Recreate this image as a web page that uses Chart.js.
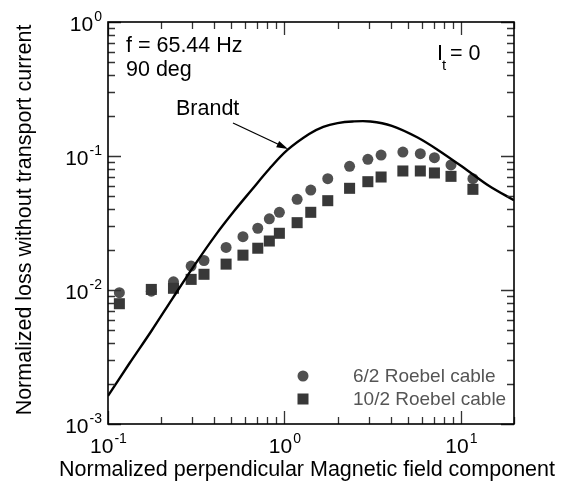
<!DOCTYPE html>
<html lang="en">

<head>
  <meta charset="UTF-8">
  <title>Normalized loss vs field</title>
  <style>
    html, body {
      margin: 0;
      padding: 0;
      background: #fff;
    }

    .chart-container {
      position: relative;
      width: 563px;
      height: 481px;
    }
  </style>
</head>

<body>
  <div class="chart-container">
    <canvas id="lossChart"></canvas>
  </div>

  <script src="https://cdn.jsdelivr.net/npm/chart.js"></script>
  <script>
    // Measured points (same field values for both cables)
    const fieldX = [0.116, 0.176, 0.235, 0.296, 0.350, 0.467, 0.582, 0.706, 0.821, 0.936, 1.18, 1.41, 1.76, 2.34, 2.97, 3.53, 4.69, 5.89, 7.08, 8.79, 11.7];
    const cable62 = [0.00955, 0.0098, 0.0115, 0.0151, 0.0166, 0.0208, 0.025, 0.0289, 0.034, 0.038, 0.0475, 0.0557, 0.0677, 0.0838, 0.0945, 0.1017, 0.107, 0.104, 0.0971, 0.0857, 0.0677];
    const cable102 = [0.0079, 0.0101, 0.0103, 0.0120, 0.0131, 0.0156, 0.0182, 0.0205, 0.0232, 0.0265, 0.0318, 0.038, 0.0464, 0.0574, 0.0643, 0.0697, 0.0773, 0.0773, 0.0747, 0.0705, 0.0564];

    // Brandt theoretical curve
    const brandtX = [0.1, 0.1324, 0.1754, 0.2328, 0.308, 0.408, 0.52, 0.653, 0.82, 1.04, 1.38, 1.66, 2.0, 2.43, 3.07, 4.06, 5.65, 7.48, 10.9, 14.4, 20];
    const brandtY = [0.00162, 0.00284, 0.0049, 0.0087, 0.0152, 0.0258, 0.039, 0.056, 0.08, 0.111, 0.146, 0.165, 0.176, 0.181, 0.181, 0.168, 0.138, 0.110, 0.078, 0.060, 0.0467];

    // Axis decades
    const xDecades = [-1, 0, 1];
    const yDecades = [-3, -2, -1, 0];
    const xRange = [0.1, 20];
    const yRange = [0.001, 1];

    const FONT = 'Arial, "Liberation Sans", sans-serif';

    function toPoints(xs, ys) {
      return xs.map((x, i) => ({ x: x, y: ys[i] }));
    }

    // draws 10^n with a raised exponent
    function drawPow(ctx, exp, x, y, align) {
      const base = '10';
      const sup = String(exp);
      ctx.font = '21px ' + FONT;
      const wb = ctx.measureText(base).width;
      ctx.font = '14px ' + FONT;
      const ws = ctx.measureText(sup).width;
      let left;
      if (align === 'center') left = x - (wb + ws) / 2;
      else left = x - (wb + ws + 1);
      ctx.fillStyle = '#000';
      ctx.textAlign = 'left';
      ctx.textBaseline = 'alphabetic';
      ctx.font = '21px ' + FONT;
      ctx.fillText(base, left, y);
      ctx.font = '14px ' + FONT;
      ctx.fillText(sup, left + wb + 1, y - 10);
    }

    const framePlugin = {
      id: 'frame',
      afterDraw(chart) {
        const { ctx, chartArea: a, scales } = chart;
        const xs = scales.x, ys = scales.y;
        ctx.save();

        // ticks, inside on all four sides
        ctx.strokeStyle = '#333';
        ctx.lineWidth = 1.3;
        ctx.beginPath();
        xDecades.forEach(d => {
          for (let m = 1; m <= 9; m++) {
            const v = m * Math.pow(10, d);
            if (v < xRange[0] || v > xRange[1]) continue;
            const px = Math.round(xs.getPixelForValue(v)) + 0.5;
            const len = m === 1 ? 13 : 7;
            ctx.moveTo(px, a.bottom); ctx.lineTo(px, a.bottom - len);
            ctx.moveTo(px, a.top); ctx.lineTo(px, a.top + len);
          }
        });
        yDecades.forEach(d => {
          for (let m = 1; m <= 9; m++) {
            const v = m * Math.pow(10, d);
            if (v < yRange[0] || v > yRange[1]) continue;
            const py = Math.round(ys.getPixelForValue(v)) + 0.5;
            const len = m === 1 ? 13 : 7;
            ctx.moveTo(a.left, py); ctx.lineTo(a.left + len, py);
            ctx.moveTo(a.right, py); ctx.lineTo(a.right - len, py);
          }
        });
        ctx.stroke();

        // frame
        ctx.strokeStyle = '#000';
        ctx.lineWidth = 1.6;
        ctx.strokeRect(a.left, a.top, a.right - a.left, a.bottom - a.top);

        // tick labels
        xDecades.forEach(d => {
          drawPow(ctx, d, xs.getPixelForValue(Math.pow(10, d)), a.bottom + 29, 'center');
        });
        yDecades.forEach(d => {
          drawPow(ctx, d, a.left - 6, ys.getPixelForValue(Math.pow(10, d)) + 9, 'right');
        });

        // axis titles
        ctx.fillStyle = '#000';
        ctx.font = '21.5px ' + FONT;
        ctx.textAlign = 'center';
        ctx.textBaseline = 'alphabetic';
        ctx.fillText('Normalized perpendicular Magnetic field component', 307, 476);
        ctx.save();
        ctx.translate(31, 220);
        ctx.rotate(-Math.PI / 2);
        ctx.fillText('Normalized loss without transport current', 0, 0);
        ctx.restore();

        // annotations
        ctx.textAlign = 'left';
        ctx.font = '21.5px ' + FONT;
        ctx.fillText('f = 65.44 Hz', 126, 52);
        ctx.fillText('90 deg', 126, 76);
        ctx.fillText('Brandt', 176, 115);
        ctx.fillText('I', 437, 60);
        ctx.font = '15px ' + FONT;
        ctx.fillText('t', 442, 70);
        ctx.font = '21.5px ' + FONT;
        ctx.fillText('= 0', 450, 60);

        // arrow to the Brandt curve
        ctx.strokeStyle = '#000';
        ctx.lineWidth = 1.3;
        ctx.beginPath();
        ctx.moveTo(233, 123);
        ctx.lineTo(282, 146);
        ctx.stroke();
        const ang = Math.atan2(149 - 123, 288 - 233);
        ctx.beginPath();
        ctx.moveTo(288, 149);
        ctx.lineTo(288 - 12 * Math.cos(ang - 0.3), 149 - 12 * Math.sin(ang - 0.3));
        ctx.lineTo(288 - 12 * Math.cos(ang + 0.3), 149 - 12 * Math.sin(ang + 0.3));
        ctx.closePath();
        ctx.fillStyle = '#000';
        ctx.fill();

        // legend
        ctx.fillStyle = '#505050';
        ctx.beginPath();
        ctx.arc(303, 376, 5.5, 0, Math.PI * 2);
        ctx.fill();
        ctx.fillStyle = '#383838';
        ctx.fillRect(297.5, 393.5, 11, 11);
        ctx.fillStyle = '#555';
        ctx.font = '19px ' + FONT;
        ctx.textBaseline = 'middle';
        ctx.fillText('6/2 Roebel cable', 353, 377);
        ctx.fillText('10/2 Roebel cable', 353, 400);

        ctx.restore();
      }
    };

    function initializeChart() {
      const ctx = document.getElementById('lossChart').getContext('2d');
      new Chart(ctx, {
        type: 'scatter',
        data: {
          datasets: [
            {
              label: 'Brandt',
              data: toPoints(brandtX, brandtY),
              showLine: true,
              borderColor: '#000',
              borderWidth: 2.4,
              pointRadius: 0,
              tension: 0.35,
              fill: false,
              order: 0
            },
            {
              label: '6/2 Roebel cable',
              data: toPoints(fieldX, cable62),
              pointStyle: 'circle',
              pointRadius: 5.5,
              backgroundColor: '#505050',
              borderColor: '#505050',
              borderWidth: 0,
              order: 2
            },
            {
              label: '10/2 Roebel cable',
              data: toPoints(fieldX, cable102),
              pointStyle: 'rect',
              pointRadius: 7.8,
              backgroundColor: '#383838',
              borderColor: '#383838',
              borderWidth: 0,
              order: 1
            }
          ]
        },
        options: {
          responsive: true,
          maintainAspectRatio: false,
          animation: false,
          layout: {
            padding: { top: 22, right: 49, left: 0, bottom: 0 }
          },
          plugins: {
            legend: { display: false },
            tooltip: { enabled: false }
          },
          scales: {
            x: {
              type: 'logarithmic',
              min: xRange[0],
              max: xRange[1],
              grid: { display: false },
              border: { display: false },
              ticks: { display: false },
              afterFit: (scale) => { scale.height = 57; }
            },
            y: {
              type: 'logarithmic',
              min: yRange[0],
              max: yRange[1],
              grid: { display: false },
              border: { display: false },
              ticks: { display: false },
              afterFit: (scale) => { scale.width = 108; }
            }
          }
        },
        plugins: [framePlugin]
      });
    }

    document.addEventListener('DOMContentLoaded', initializeChart);
  </script>
</body>

</html>
